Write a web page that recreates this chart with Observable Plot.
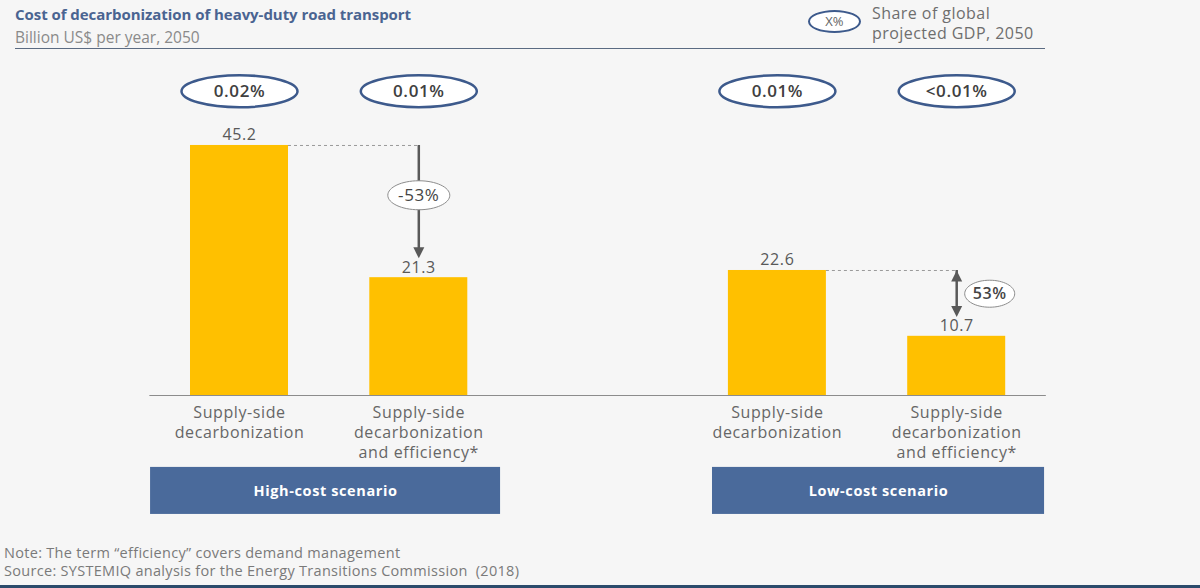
<!DOCTYPE html>
<html>
<head>
<meta charset="utf-8">
<script src="https://cdn.jsdelivr.net/npm/d3@7"></script>
<script src="https://cdn.jsdelivr.net/npm/@observablehq/plot@0.6"></script>
<style>
  html, body { margin: 0; padding: 0; background: #f6f6f6; }
  #page { position: relative; width: 1200px; height: 588px; background: #f6f6f6; overflow: hidden; font-family: "Open Sans", sans-serif; }
  .abs { position: absolute; white-space: nowrap; }
  #title { left: 15px; top: 4px; font-size: 15px; font-weight: 700; color: #4a6491; letter-spacing: -0.05px; }
  #subtitle { left: 15px; top: 26px; font-size: 15.5px; color: #8a8a8a; }
  #topline { left: 15px; top: 48px; width: 1030px; height: 1px; background: #5b6b82; }
  #legendEll { left: 808px; top: 10px; width: 49px; height: 19px; border: 2.5px solid #3d5a8c; border-radius: 50%; background: #fff; font-size: 13px; color: #666; text-align: center; line-height: 19px; }
  #legendTxt { left: 872px; top: 3px; font-size: 16px; letter-spacing: 0.45px; line-height: 20px; color: #6e6e6e; }
  #chart { left: 0; top: 55px; }
  #notes { left: 4px; top: 544px; font-size: 14.5px; letter-spacing: 0.3px; line-height: 18px; color: #7a7a7a; }
  #bottomline { left: 0; top: 585px; width: 1200px; height: 3px; background: #2b4b6b; }
</style>
</head>
<body>
<div id="page">
  <div id="title" class="abs"></div>
  <div id="subtitle" class="abs"></div>
  <div id="topline" class="abs"></div>
  <div id="legendEll" class="abs"></div>
  <div id="legendTxt" class="abs"></div>
  <div id="chart" class="abs"></div>
  <div id="notes" class="abs"></div>
  <div id="bottomline" class="abs"></div>
</div>
<script>
// ---- data ----
const titleText = "Cost of decarbonization of heavy-duty road transport";
const subtitleText = "Billion US$ per year, 2050";
const legendSymbol = "X%";
const legendLines = ["Share of global", "projected GDP, 2050"];
const scenarios = ["High-cost scenario", "Low-cost scenario"];
const options = ["Supply-side\ndecarbonization", "Supply-side\ndecarbonization\nand efficiency*"];
const highCostValues = [45.2, 21.3];
const lowCostValues = [22.6, 10.7];
const gdpShares = ["0.02%", "0.01%", "0.01%", "<0.01%"];
const changeLabels = ["-53%", "53%"];
const noteLines = ["Note: The term \u201cefficiency\u201d covers demand management",
                   "Source: SYSTEMIQ analysis for the Energy Transitions Commission  (2018)"];

// ---- text outside the svg ----
document.getElementById("title").textContent = titleText;
document.getElementById("subtitle").textContent = subtitleText;
document.getElementById("legendEll").textContent = legendSymbol;
document.getElementById("legendTxt").innerHTML = legendLines.join("<br>");
document.getElementById("notes").innerHTML = noteLines.join("<br>").replace("  ", "&nbsp; ");

// ---- tables ----
const valuesByScenario = [highCostValues, lowCostValues];
const rows = [];
scenarios.forEach((s, g) => {
  options.forEach((o, i) => {
    rows.push({scenario: s, option: o, value: valuesByScenario[g][i],
               share: gdpShares[g * 2 + i], slot: g * 3 + i});
  });
});
// scenario box extents relative to the group's first bar (in bar-slot units)
const boxExtents = [[-0.496, 1.456], [-0.362, 1.49]];
const groups = scenarios.map((s, g) => ({scenario: s, x1: g * 3 + boxExtents[g][0], x2: g * 3 + boxExtents[g][1]}));
const changes = scenarios.map((s, g) => ({
  label: changeLabels[g],
  from: valuesByScenario[g][0],
  to: valuesByScenario[g][1],
  xa: g * 3, xb: g * 3 + 1
}));

// ---- custom symbols ----
function ellipse(rx, ry) {
  const k = 0.5523;
  return {draw(c) {
    c.moveTo(rx, 0);
    c.bezierCurveTo(rx, ry * k, rx * k, ry, 0, ry);
    c.bezierCurveTo(-rx * k, ry, -rx, ry * k, -rx, 0);
    c.bezierCurveTo(-rx, -ry * k, -rx * k, -ry, 0, -ry);
    c.bezierCurveTo(rx * k, -ry, rx, -ry * k, rx, 0);
    c.closePath();
  }};
}
const downTri = {draw(c) { c.moveTo(-5.5, -11); c.lineTo(5.5, -11); c.lineTo(0, 0); c.closePath(); }};
const upTri = {draw(c) { c.moveTo(-5.5, 11); c.lineTo(5.5, 11); c.lineTo(0, 0); c.closePath(); }};

const half = 0.2733;        // half bar width in slot units
const headGap = 3.5;        // arrow stops above the lower value label
const shareY = 55, boxTop = -13, boxBottom = -21.5, boxLabelY = -17.3;

const chart = Plot.plot({
  width: 1200,
  height: 480,
  marginLeft: 149.35,
  marginRight: 154.15,
  marginTop: 8.1,
  marginBottom: 18.3,
  x: {domain: [-0.5, 4.5], axis: null},
  y: {domain: [-22, 60], axis: null},
  style: {background: "transparent", fontFamily: "Open Sans, sans-serif", overflow: "visible", letterSpacing: "0.6px"},
  marks: [
    Plot.rect(rows, {x1: d => d.slot - half, x2: d => d.slot + half, y1: () => 0, y2: "value", fill: "#FFC000"}),
    Plot.ruleY([0], {stroke: "#8c8c8c", strokeWidth: 1}),
    Plot.text(rows, {x: "slot", y: "value", text: d => d.value.toFixed(1), lineAnchor: "bottom", dy: -5, fontSize: 16, fill: "#595959"}),
    Plot.text(rows, {x: "slot", y: () => 0, text: "option", lineAnchor: "top", dy: 8, fontSize: 16, lineHeight: 1.25, fill: "#666666"}),
    // GDP share ellipses
    Plot.dot(rows, {x: "slot", y: () => shareY, symbol: ellipse(58, 16), fill: "#ffffff", stroke: "#3d5a8c", strokeWidth: 2.5}),
    Plot.text(rows, {x: "slot", y: () => shareY, text: "share", fontSize: 17, fontWeight: 600, fill: "#404040"}),
    // scenario boxes
    Plot.rect(groups, {x1: "x1", x2: "x2", y1: () => boxTop, y2: () => boxBottom, fill: "#4a6a9b"}),
    Plot.text(groups, {x: d => (d.x1 + d.x2) / 2, y: () => boxLabelY, text: "scenario", fontSize: 14.5, fontWeight: 700, fill: "#ffffff"}),
    // change annotations
    Plot.ruleY(changes, {y: "from", x1: d => d.xa + half, x2: "xb", stroke: "#9a9a9a", strokeDasharray: "3,3", strokeWidth: 1}),
    Plot.ruleX(changes, {x: "xb", y1: "from", y2: d => d.to + headGap + 1, stroke: "#595959", strokeWidth: 2.5}),
    Plot.dot(changes, {x: "xb", y: d => d.to + headGap, symbol: downTri, fill: "#595959", stroke: "none"}),
    Plot.dot(changes.slice(1), {x: "xb", y: "from", symbol: upTri, fill: "#595959", stroke: "none"}),
    // label on the arrow (high-cost)
    Plot.dot(changes.slice(0, 1), {x: "xb", y: d => (d.from + d.to + headGap) / 2 + 1.2, symbol: ellipse(31, 14.5), fill: "#ffffff", stroke: "#8c8c8c", strokeWidth: 1}),
    Plot.text(changes.slice(0, 1), {x: "xb", y: d => (d.from + d.to + headGap) / 2 + 1.2, text: "label", fontSize: 17, fontWeight: 500, fill: "#454545"}),
    // label beside the arrow (low-cost)
    Plot.dot(changes.slice(1), {x: "xb", y: d => (d.from + d.to + headGap) / 2, dx: 33, symbol: ellipse(25, 13.5), fill: "#ffffff", stroke: "#8c8c8c", strokeWidth: 1}),
    Plot.text(changes.slice(1), {x: "xb", y: d => (d.from + d.to + headGap) / 2, dx: 33, text: "label", fontSize: 16, fontWeight: 600, fill: "#454545", style: {letterSpacing: "0px"}})
  ]
});
document.getElementById("chart").appendChild(chart);
</script>
</body>
</html>
